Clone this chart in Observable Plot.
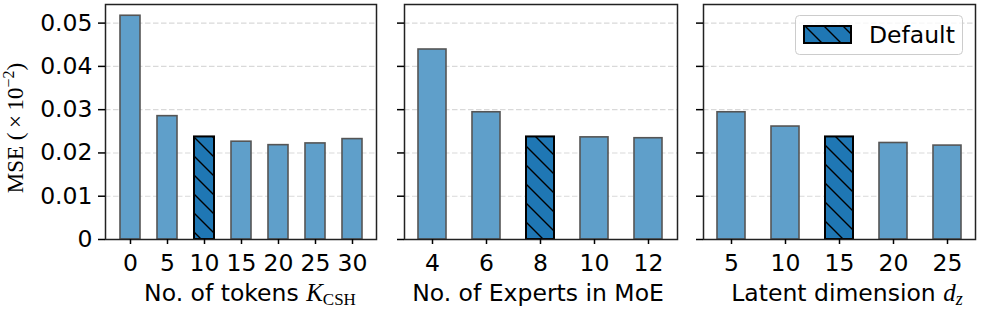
<!DOCTYPE html>
<html>
<head>
<meta charset="utf-8">
<script src="https://cdn.jsdelivr.net/npm/d3@7"></script>
<script src="https://cdn.jsdelivr.net/npm/@observablehq/plot@0.6"></script>
<style>
  html, body { margin: 0; padding: 0; background: #fff; }
  #wrap { position: relative; width: 996px; height: 312px; overflow: hidden; }
  #wrap > svg { position: absolute; top: 0; }
</style>
</head>
<body>
<div id="wrap"></div>
<script>
// ---- data ----
const tokenCounts = [0, 5, 10, 15, 20, 25, 30];
const tokenMSE    = [0.0517, 0.0285, 0.0237, 0.0226, 0.0218, 0.0222, 0.0232];
const tokenDefault = 10;

const expertCounts = [4, 6, 8, 10, 12];
const expertMSE    = [0.0439, 0.0294, 0.0237, 0.0236, 0.0234];
const expertDefault = 8;

const latentDims = [5, 10, 15, 20, 25];
const latentMSE  = [0.0294, 0.0261, 0.0237, 0.0223, 0.0217];
const latentDefault = 15;

const yTicks = [0, 0.01, 0.02, 0.03, 0.04, 0.05];
const yMax = 0.0543;
const legendLabel = "Default";

const wrap = document.getElementById("wrap");
const FS = "23.5px";

// hatch pattern definition
const defsSvg = d3.select(wrap).append("svg").attr("width", 0).attr("height", 0).style("position", "absolute");
const pat = defsSvg.append("defs").append("pattern")
  .attr("id", "hatch").attr("patternUnits", "userSpaceOnUse")
  .attr("width", 19).attr("height", 19);
pat.append("path")
  .attr("d", "M0,0L19,19M-3,16L3,22M16,-3L22,3")
  .attr("stroke", "#000").attr("stroke-width", 1.4).attr("fill", "none");

const yFmt = d => d === 0 ? "0" : d.toFixed(2);

function panel({cats, vals, def, left, width, ml, pi, po, showY}) {
  const data = cats.map((c, i) => ({c, v: vals[i], d: c === def}));
  const chart = Plot.plot({
    width, height: 312,
    marginLeft: ml, marginRight: 2, marginTop: 4, marginBottom: 73,
    style: {fontFamily: "DejaVu Sans", fontSize: FS, color: "#000", background: "transparent", overflow: "visible"},
    x: {type: "band", domain: cats, paddingInner: pi, paddingOuter: po},
    y: {domain: [0, yMax]},
    marks: [
      Plot.ruleY(yTicks.slice(1), {stroke: "#d9d9d9", strokeWidth: 1.1, strokeDasharray: "5.5,2.5"}),
      Plot.barY(data.filter(d => !d.d), {x: "c", y: "v", fill: "#5f9fca", stroke: "#555", strokeWidth: 1.6}),
      Plot.barY(data.filter(d => d.d), {x: "c", y: "v", fill: "#1f77b4"}),
      Plot.barY(data.filter(d => d.d), {x: "c", y: "v", fill: "url(#hatch)", stroke: "#000", strokeWidth: 2}),
      Plot.frame({stroke: "#222", strokeWidth: 1.5}),
      Plot.axisY({ticks: yTicks, tickSize: 7, tickPadding: 6, strokeWidth: 1.5, label: null,
                  tickFormat: showY ? yFmt : () => ""}),
      Plot.axisX({tickSize: 5, tickPadding: 10, strokeWidth: 1.5, label: null})
    ]
  });
  chart.style.left = left + "px";
  wrap.appendChild(chart);
}

panel({cats: tokenCounts, vals: tokenMSE, def: tokenDefault, left: 0, width: 378, ml: 105, pi: 0.46, po: 0.325, showY: true});
panel({cats: expertCounts, vals: expertMSE, def: expertDefault, left: 380, width: 299, ml: 24, pi: 0.474, po: 0.247, showY: false});
panel({cats: latentDims, vals: latentMSE, def: latentDefault, left: 680, width: 297, ml: 23, pi: 0.474, po: 0.247, showY: false});

// overlay: axis titles and legend
const ov = d3.select(wrap).append("svg")
  .attr("width", 996).attr("height", 312)
  .style("left", "0px").style("pointer-events", "none");

// y label
const yl = ov.append("text")
  .attr("transform", "translate(23,128) rotate(-90)")
  .attr("text-anchor", "middle")
  .style("font-family", "'Liberation Serif', serif").style("font-size", "23px").attr("fill", "#000");
yl.append("tspan").text("MSE (\u2009×\u200910");
yl.append("tspan").attr("dy", -9).style("font-size", "16px").text("−2");
yl.append("tspan").attr("dy", 9).text(")");

// x labels
function xlabel(x, parts) {
  const t = ov.append("text").attr("x", x).attr("y", 301).attr("text-anchor", "middle")
    .style("font-family", "DejaVu Sans").style("font-size", FS).attr("fill", "#000");
  parts.forEach(p => {
    const s = t.append("tspan").text(p.t);
    if (p.serif) s.style("font-family", "'Liberation Serif', serif");
    if (p.italic) s.style("font-style", "italic");
    if (p.size) s.style("font-size", p.size + "px");
    if (p.dy) s.attr("dy", p.dy);
  });
}
xlabel(250, [{t: "No. of tokens "}, {t: "K", serif: true, italic: true, size: 25}, {t: "CSH", serif: true, size: 17, dy: 4}]);
xlabel(538, [{t: "No. of Experts in MoE"}]);
xlabel(847, [{t: "Latent dimension "}, {t: "d", serif: true, italic: true, size: 25}, {t: "z", serif: true, italic: true, size: 18, dy: 4}]);

// legend
ov.append("rect").attr("x", 795.5).attr("y", 15.5).attr("width", 167).attr("height", 39).attr("rx", 4)
  .attr("fill", "#fff").attr("fill-opacity", 0.8).attr("stroke", "#ccc").attr("stroke-width", 1);
ov.append("rect").attr("x", 804).attr("y", 26).attr("width", 47).attr("height", 17).attr("fill", "#1f77b4");
ov.append("rect").attr("x", 804).attr("y", 26).attr("width", 47).attr("height", 17)
  .attr("fill", "url(#hatch)").attr("stroke", "#000").attr("stroke-width", 2);
ov.append("text").attr("x", 869).attr("y", 43).style("font-family", "DejaVu Sans").style("font-size", FS)
  .attr("fill", "#000").text(legendLabel);
</script>
</body>
</html>
